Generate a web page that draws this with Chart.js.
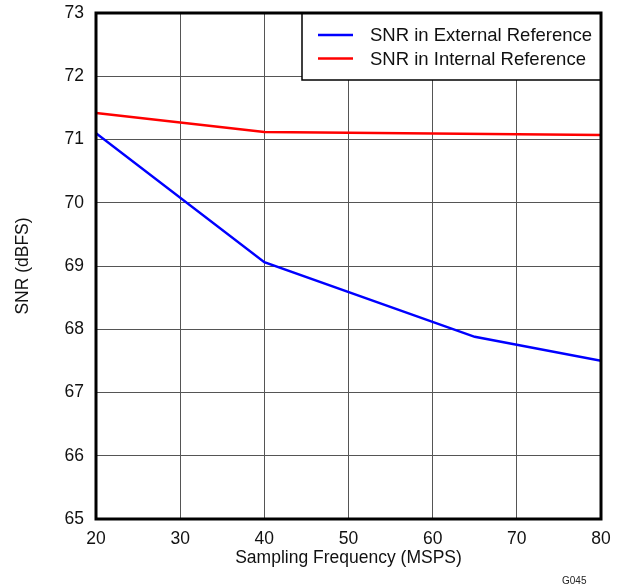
<!DOCTYPE html>
<html>
<head>
<meta charset="utf-8">
<title>SNR vs Sampling Frequency</title>
<script src="https://cdn.jsdelivr.net/npm/chart.js"></script>
<style>
  html, body { margin: 0; padding: 0; background: #fff; }
  #wrap { width: 623px; height: 587px; }
</style>
</head>
<body>
<div id="wrap"><canvas id="myChart" width="623" height="587"></canvas></div>
<script>
// values
const extFreq = [20, 40, 65, 80];
const extSnr = [71.1, 69.06, 67.88, 67.5];
const intFreq = [20, 40, 80];
const intSnr = [71.42, 71.12, 71.07];
const seriesLabels = ['SNR in External Reference', 'SNR in Internal Reference'];
const xTicks = [20, 30, 40, 50, 60, 70, 80];
const yTicks = [65, 66, 67, 68, 69, 70, 71, 72, 73];
const figureId = 'G045';

const font = 'Arial, "Liberation Sans", sans-serif';

function toPoints(xs, ys) {
    return xs.map((x, i) => ({ x: x, y: ys[i] }));
}

// legend box in the top right corner plus the heavy frame round the plot
const framePlugin = {
    id: 'frame',
    afterDatasetsDraw(chart) {
        const ctx = chart.ctx;
        const a = chart.chartArea;
        const boxLeft = 302, boxTop = a.top, boxRight = a.right, boxBottom = 80;

        ctx.save();
        ctx.fillStyle = '#fff';
        ctx.fillRect(boxLeft, boxTop, boxRight - boxLeft, boxBottom - boxTop);
        ctx.strokeStyle = '#000';
        ctx.lineWidth = 1.5;
        ctx.strokeRect(boxLeft, boxTop, boxRight - boxLeft, boxBottom - boxTop);

        ctx.font = '18.5px ' + font;
        ctx.textBaseline = 'middle';
        ctx.textAlign = 'left';
        chart.data.datasets.forEach((ds, i) => {
            const y = 35 + i * 23.5;
            ctx.strokeStyle = ds.borderColor;
            ctx.lineWidth = 2.5;
            ctx.beginPath();
            ctx.moveTo(318, y);
            ctx.lineTo(353, y);
            ctx.stroke();
            ctx.fillStyle = '#111';
            ctx.fillText(ds.label, 370, y + 1);
        });

        ctx.strokeStyle = '#000';
        ctx.lineWidth = 3;
        ctx.strokeRect(a.left, a.top, a.right - a.left, a.bottom - a.top);

        ctx.font = '10px ' + font;
        ctx.fillStyle = '#222';
        ctx.textBaseline = 'alphabetic';
        ctx.fillText(figureId, 562, 584);
        ctx.restore();
    }
};

new Chart(document.getElementById('myChart'), {
    type: 'line',
    data: {
        datasets: [
            {
                label: seriesLabels[0],
                data: toPoints(extFreq, extSnr),
                borderColor: '#0000ff',
                borderWidth: 2.5,
                pointRadius: 0,
                fill: false,
                tension: 0
            },
            {
                label: seriesLabels[1],
                data: toPoints(intFreq, intSnr),
                borderColor: '#ff0000',
                borderWidth: 2.5,
                pointRadius: 0,
                fill: false,
                tension: 0
            }
        ]
    },
    options: {
        responsive: false,
        animation: false,
        layout: { padding: { left: 0, right: 22, top: 13, bottom: 0 } },
        plugins: {
            legend: { display: false },
            tooltip: { enabled: false }
        },
        scales: {
            x: {
                type: 'linear',
                min: 20,
                max: 80,
                afterFit(scale) { scale.height = 68; },
                afterBuildTicks(scale) { scale.ticks = xTicks.map(v => ({ value: v })); },
                grid: { color: '#555', lineWidth: 1, drawTicks: false },
                border: { display: false },
                ticks: { color: '#111', font: { family: font, size: 17.5 }, padding: 10 },
                title: {
                    display: true,
                    text: 'Sampling Frequency (MSPS)',
                    color: '#111',
                    font: { family: font, size: 17.5 },
                    padding: { top: 0, bottom: 18 }
                }
            },
            y: {
                min: 65,
                max: 73,
                afterFit(scale) {
                    scale.width = 96;
                    scale.paddingTop = 0;
                    scale.paddingBottom = 0;
                },
                afterBuildTicks(scale) { scale.ticks = yTicks.map(v => ({ value: v })); },
                grid: { color: '#555', lineWidth: 1, drawTicks: false },
                border: { display: false },
                ticks: { color: '#111', font: { family: font, size: 17.5 }, padding: 12 },
                title: {
                    display: true,
                    text: 'SNR (dBFS)',
                    color: '#111',
                    font: { family: font, size: 17.5 },
                    padding: { top: 13, bottom: 0 }
                }
            }
        }
    },
    plugins: [framePlugin]
});
</script>
</body>
</html>
